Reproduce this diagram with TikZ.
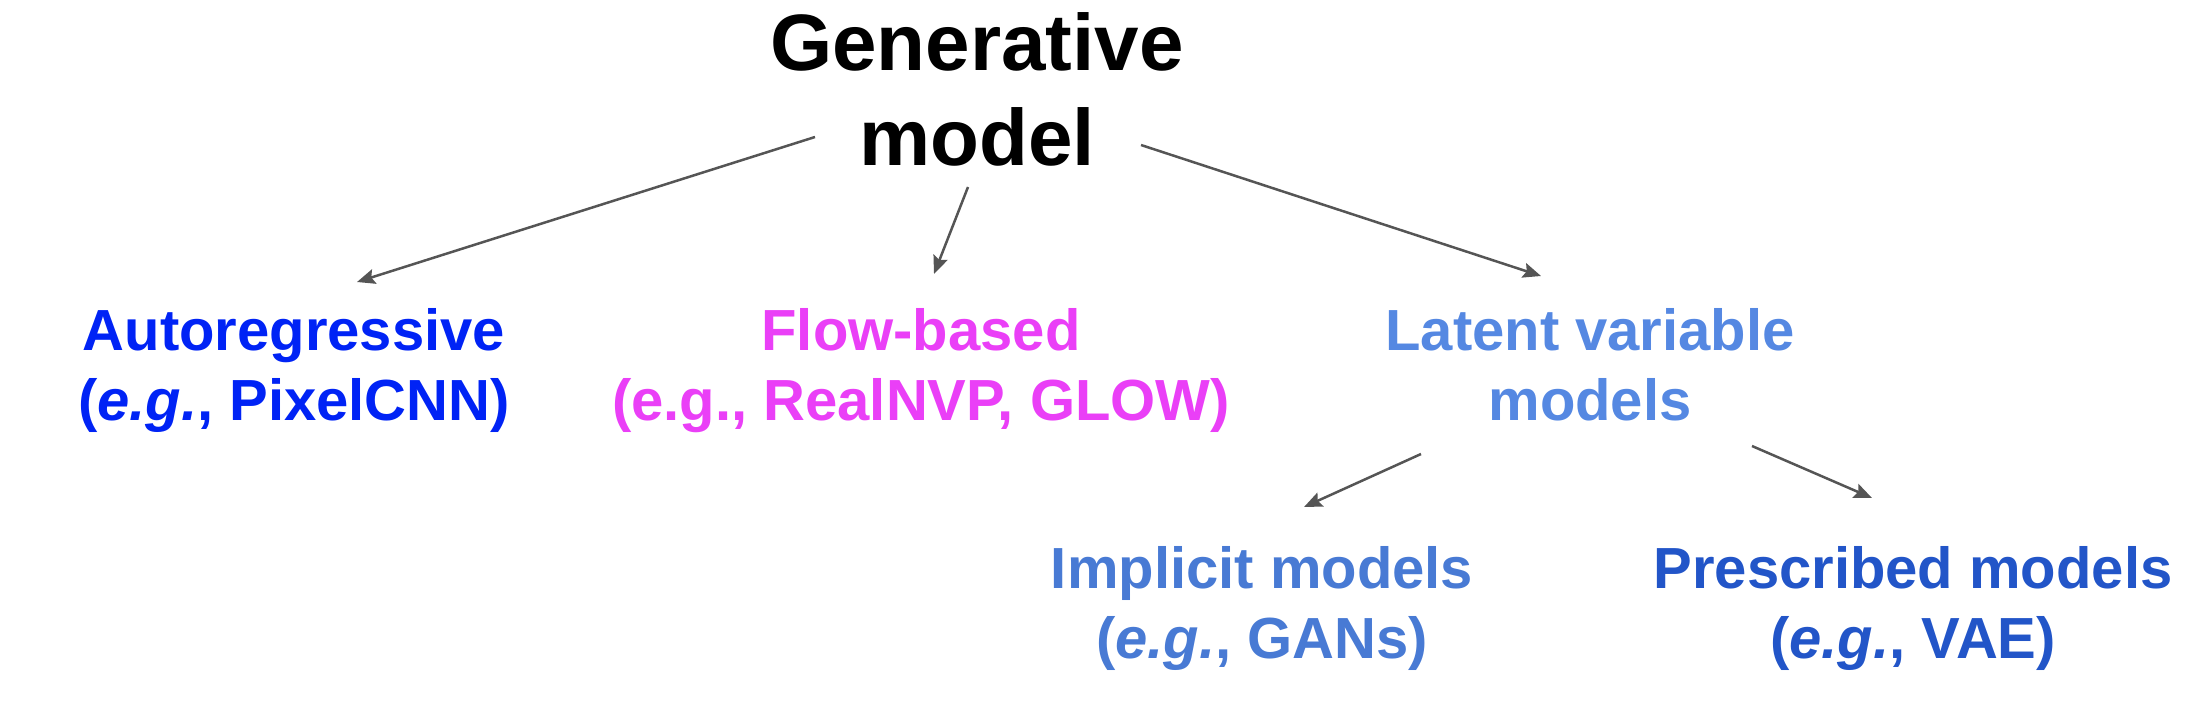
\documentclass[tikz,border=0pt]{standalone}
\usepackage{fontspec}
\setmainfont{Liberation Sans}
\usetikzlibrary{arrows.meta}
\definecolor{autoblue}{RGB}{0,35,245}
\definecolor{flowpink}{RGB}{234,63,247}
\definecolor{latentblue}{RGB}{85,136,226}
\definecolor{implblue}{RGB}{72,122,212}
\definecolor{prescblue}{RGB}{34,85,200}
\definecolor{arrowgray}{RGB}{85,85,85}
\tikzset{
  lbl/.style={inner sep=0pt, anchor=base, align=center, font=\fontsize{58}{70}\selectfont\bfseries},
  toplbl/.style={inner sep=0pt, anchor=base, align=center, font=\fontsize{80}{95}\selectfont\bfseries},
  conn/.style={draw=arrowgray, line width=2.5pt, -{Stealth[length=18pt,width=15pt,inset=3pt]}}
}
\begin{document}
\begin{tikzpicture}[x=1pt,y=-1pt]
\useasboundingbox (0,0) rectangle (2206,726);
\node[toplbl] (gen) at (977,165) {Generative\\model};
\node[lbl, text=autoblue] (auto) at (294,420) {Autoregressive\\(\textit{e.g.}, PixelCNN)};
\node[lbl, text=flowpink] (flow) at (921,420) {Flow-based\\(e.g., RealNVP, GLOW)};
\node[lbl, text=latentblue] (latent) at (1590,420) {Latent variable\\models};
\node[lbl, text=implblue] (impl) at (1262,658) {Implicit models\\(\textit{e.g.}, GANs)};
\node[lbl, text=prescblue] (presc) at (1913,658) {Prescribed models\\(\textit{e.g.}, VAE)};
% connector ends
\coordinate (gen-l) at (815,137);
\coordinate (gen-m) at (968,187);
\coordinate (gen-r) at (1141,145);
\coordinate (auto-in) at (357,282);
\coordinate (flow-in) at (934,274);
\coordinate (latent-in) at (1541,276);
\coordinate (latent-l) at (1421,454);
\coordinate (latent-r) at (1752,446);
\coordinate (impl-in) at (1304,507);
\coordinate (presc-in) at (1872,498);
\draw[conn] (gen-l) -- (auto-in);
\draw[conn] (gen-m) -- (flow-in);
\draw[conn] (gen-r) -- (latent-in);
\draw[conn] (latent-l) -- (impl-in);
\draw[conn] (latent-r) -- (presc-in);
\end{tikzpicture}
\end{document}
